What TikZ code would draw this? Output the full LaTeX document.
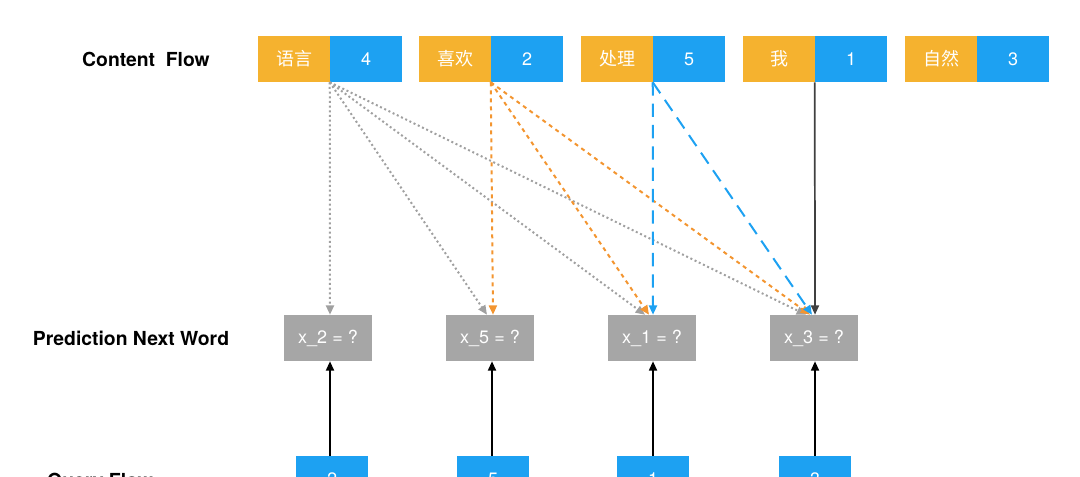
\documentclass[tikz,border=0pt]{standalone}
\usepackage{fontspec}
\setmainfont{TeX Gyre Heros}
\newfontfamily\cjk{Noto Sans CJK SC}
\usetikzlibrary{arrows.meta}
\definecolor{wordorange}{HTML}{F5B22F}
\definecolor{posblue}{HTML}{1DA1F2}
\definecolor{predgray}{HTML}{A6A6A6}
\definecolor{arroworange}{HTML}{F39530}
\definecolor{arrowgray}{HTML}{A0A0A0}
\tikzset{
  wordbox/.style={fill=wordorange, text=white, minimum width=54pt, minimum height=34.5pt, inner sep=0pt, font=\cjk\fontsize{13.5}{15}\selectfont},
  posbox/.style={fill=posblue, text=white, minimum width=54pt, minimum height=34.5pt, inner sep=0pt, font=\fontsize{13.5}{15}\selectfont},
  predbox/.style={fill=predgray, text=white, minimum width=66pt, minimum height=34.5pt, inner sep=0pt, font=\fontsize{13.5}{15}\selectfont},
  rowlabel/.style={font=\bfseries\fontsize{14.5}{16}\selectfont}
}

\begin{document}
\begin{tikzpicture}[x=0.75pt, y=-0.75pt, >={Triangle[length=7pt,width=6pt]}]
\useasboundingbox (0,0) rectangle (1080,476);
\clip (0,0) rectangle (1080,476);
% Row labels
    \node[rowlabel] (lcontent) at (146,59) {Content\ \ Flow};
    \node[rowlabel] (lpred) at (131,338) {Prediction Next Word};
    \node[rowlabel] (lquery) at (100,482) {Query Flow};
% Content flow
    \node[wordbox] (w1) at (294,59) {语言};
    \node[posbox] (p1) at (366,59) {4};
    \node[wordbox] (w2) at (455,59) {喜欢};
    \node[posbox] (p2) at (527,59) {2};
    \node[wordbox] (w3) at (617,59) {处理};
    \node[posbox] (p3) at (689,59) {5};
    \node[wordbox] (w4) at (779,59) {我};
    \node[posbox] (p4) at (851,59) {1};
    \node[wordbox] (w5) at (941,59) {自然};
    \node[posbox] (p5) at (1013,59) {3};
% Predictions
    \node[predbox] (x2) at (328,338) {x\_2 = ?};
    \node[predbox] (x5) at (490,338) {x\_5 = ?};
    \node[predbox] (x1) at (652,338) {x\_1 = ?};
    \node[predbox] (x3) at (814,338) {x\_3 = ?};
% Query flow
    \node[posbox] (q2) at (332,479) {2};
    \node[posbox] (q5) at (493,479) {5};
    \node[posbox] (q1) at (653,479) {1};
    \node[posbox] (q3) at (815,479) {3};
% Query to prediction
    \draw[->, line width=1.3pt] (q2.north -| 330,0) -- (x2.south -| 330,0);
    \draw[->, line width=1.3pt] (q5.north -| 492,0) -- (x5.south -| 492,0);
    \draw[->, line width=1.3pt] (q1.north -| 653,0) -- (x1.south -| 653,0);
    \draw[->, line width=1.3pt] (q3.north -| 815,0) -- (x3.south -| 815,0);
% Content to prediction
    \draw[->, arrowgray, line width=1.5pt, dotted] (p1.south west) -- (x2.north -| 330,0);
    \draw[->, arrowgray, line width=1.5pt, dotted] (p1.south west) -- (x5.north -| 487,0);
    \draw[->, arrowgray, line width=1.5pt, dotted] (p1.south west) -- (x1.north -| 645,0);
    \draw[->, arrowgray, line width=1.5pt, dotted] (p1.south west) -- (x3.north -| 806,0);
    \draw[->, arroworange, line width=1.5pt, dashed] (p2.south west) -- (x5.north -| 493,0);
    \draw[->, arroworange, line width=1.5pt, dashed] (p2.south west) -- (x1.north -| 649,0);
    \draw[->, arroworange, line width=1.5pt, dashed] (p2.south west) -- (x3.north -| 810,0);
    \draw[->, posblue, line width=1.5pt, dash pattern=on 10pt off 6pt] (p3.south west) -- (x1.north -| 653,0);
    \draw[->, posblue, line width=1.5pt, dash pattern=on 10pt off 6pt] (p3.south west) -- (x3.north -| 812,0);
    \draw[->, black!75, line width=1.3pt] (p4.south west) -- (x3.north -| 815,0);
\end{tikzpicture}
\end{document}
